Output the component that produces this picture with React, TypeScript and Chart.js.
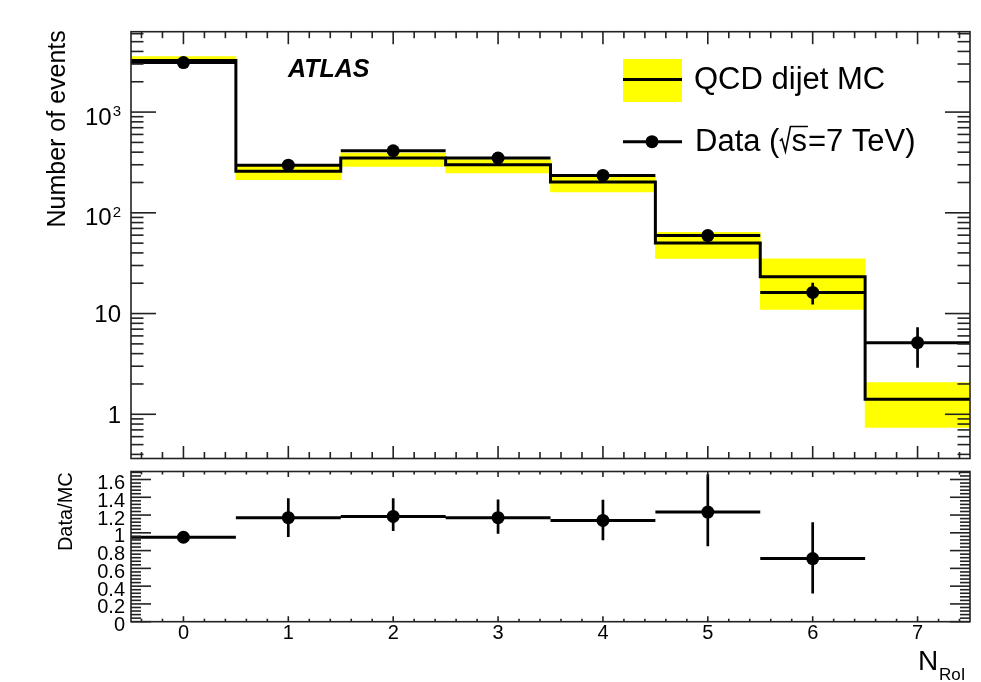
import React, { useEffect, useRef } from 'react';
import { Chart, registerables } from 'chart.js';

Chart.register(...registerables);

const FONT = '"Liberation Sans", Arial, Helvetica, sans-serif';

// ---------------- data ----------------
const categories = [0, 1, 2, 3, 4, 5, 6, 7];
const xTickLabels = ['0', '1', '2', '3', '4', '5', '6', '7'];

// QCD dijet MC (histogram) and its uncertainty band
const mcValues = [3245, 258, 350, 300, 202, 50.3, 23.2, 1.41];
const mcBandLow = [3230, 213, 289, 249, 161, 35.2, 11.0, 0.74];
const mcBandHigh = [3550, 297, 392, 337, 230, 64.1, 34.9, 2.06];

// Data (sqrt(s)=7 TeV)
const dataValues = [3100, 297, 413, 350, 235, 59.4, 16.2, 5.14];
const dataErrLow = [3045, 280, 393, 331, 220, 51.7, 12.3, 2.9];
const dataErrHigh = [3156, 314, 433, 369, 250, 67.1, 20.2, 7.33];

// Data / MC ratio
const ratioCategories = [0, 1, 2, 3, 4, 5, 6];
const ratioValues = [0.95, 1.17, 1.185, 1.17, 1.14, 1.233, 0.71];
const ratioErrLow = [0.93, 0.953, 1.02, 0.99, 0.916, 0.849, 0.318];
const ratioErrHigh = [0.97, 1.39, 1.39, 1.375, 1.372, 1.66, 1.12];

// axis ticks
const topYTickValues = [1, 10, 100, 1000];
const topYTickLabels = ['1', '10', '10^2', '10^3'];
const ratioYTickValues = [0, 0.2, 0.4, 0.6, 0.8, 1, 1.2, 1.4, 1.6];
const ratioYTickLabels = ['0', '0.2', '0.4', '0.6', '0.8', '1', '1.2', '1.4', '1.6'];

const xRange = [-0.5, 7.5];
const topYRange = [0.364, 6280];
const ratioYRange = [0, 1.69];
const binHalfWidth = 0.5;

// ---------------- helpers ----------------
function xErrBars(cats: number[], vals: number[]) {
  const out: any[] = [];
  cats.forEach((c, i) => {
    out.push({ x: c - binHalfWidth, y: vals[i] }, { x: c + binHalfWidth, y: vals[i] }, { x: c, y: null });
  });
  return out;
}
function yErrBars(cats: number[], lo: number[], hi: number[]) {
  const out: any[] = [];
  cats.forEach((c, i) => {
    out.push({ x: c, y: lo[i] }, { x: c, y: hi[i] }, { x: c, y: null });
  });
  return out;
}
function stepPoints(cats: number[], vals: number[]) {
  return [
    { x: xRange[0], y: vals[0] },
    ...cats.map((c, i) => ({ x: c, y: vals[i] })),
    { x: xRange[1], y: vals[vals.length - 1] },
  ];
}
function linTicks(min: number, max: number, step: number, majorEvery: number) {
  const major: number[] = [];
  const minor: number[] = [];
  const k0 = Math.ceil(min / step - 1e-9);
  const k1 = Math.floor(max / step + 1e-9);
  for (let k = k0; k <= k1; k++) {
    const v = k * step;
    const r = v / majorEvery;
    if (Math.abs(r - Math.round(r)) < 1e-6) major.push(v);
    else minor.push(v);
  }
  return { major, minor };
}
function logTicks(min: number, max: number) {
  const major: number[] = [];
  const minor: number[] = [];
  for (let e = Math.floor(Math.log10(min)); e <= Math.floor(Math.log10(max)); e++) {
    for (let m = 1; m <= 9; m++) {
      const v = m * Math.pow(10, e);
      if (v < min || v > max) continue;
      if (m === 1) major.push(v);
      else minor.push(v);
    }
  }
  return { major, minor };
}
function line(ctx: CanvasRenderingContext2D, x1: number, y1: number, x2: number, y2: number) {
  ctx.beginPath();
  ctx.moveTo(x1, y1);
  ctx.lineTo(x2, y2);
  ctx.stroke();
}
function drawFrameAndTicks(chart: any, xT: any, yT: any, xLen: number[], yLen: number[]) {
  const ctx = chart.ctx as CanvasRenderingContext2D;
  const a = chart.chartArea;
  const xs = chart.scales.x;
  const ys = chart.scales.y;
  ctx.save();
  ctx.strokeStyle = '#222';
  ctx.lineWidth = 1.6;
  ctx.lineCap = 'butt';
  ctx.strokeRect(a.left, a.top, a.right - a.left, a.bottom - a.top);
  const xt = (vals: number[], len: number) => {
    vals.forEach((v) => {
      const px = xs.getPixelForValue(v);
      line(ctx, px, a.bottom, px, a.bottom - len);
      line(ctx, px, a.top, px, a.top + len);
    });
  };
  const yt = (vals: number[], len: number) => {
    vals.forEach((v) => {
      const py = ys.getPixelForValue(v);
      line(ctx, a.left, py, a.left + len, py);
      line(ctx, a.right, py, a.right - len, py);
    });
  };
  xt(xT.major, xLen[0]);
  xt(xT.minor, xLen[1]);
  yt(yT.major, yLen[0]);
  yt(yT.minor, yLen[1]);
  ctx.restore();
}

// ---------------- plugins ----------------
const topPlugin = {
  id: 'topDecor',
  afterDatasetsDraw(chart: any) {
    drawFrameAndTicks(
      chart,
      linTicks(xRange[0], xRange[1], 0.2, 1),
      logTicks(topYRange[0], topYRange[1]),
      [12.5, 6.5],
      [25, 12.5]
    );
  },
  afterDraw(chart: any) {
    const ctx = chart.ctx as CanvasRenderingContext2D;
    const a = chart.chartArea;
    const ys = chart.scales.y;
    ctx.save();
    ctx.fillStyle = '#000';
    // y tick labels
    const rightX = a.left - 10;
    topYTickValues.forEach((v, i) => {
      const py = ys.getPixelForValue(v);
      const parts = topYTickLabels[i].split('^');
      ctx.textAlign = 'left';
      ctx.textBaseline = 'alphabetic';
      if (parts.length === 1) {
        ctx.font = `24px ${FONT}`;
        const w = ctx.measureText(parts[0]).width;
        ctx.fillText(parts[0], rightX - w, py + 8.5);
      } else {
        ctx.font = `15px ${FONT}`;
        const ew = ctx.measureText(parts[1]).width;
        ctx.font = `24px ${FONT}`;
        const bw = ctx.measureText(parts[0]).width;
        ctx.fillText(parts[0], rightX - ew - bw - 1, py + 12.5);
        ctx.font = `15px ${FONT}`;
        ctx.fillText(parts[1], rightX - ew, py + 3.7);
      }
    });
    // y title
    ctx.save();
    ctx.translate(65, a.top - 1.5);
    ctx.rotate(-Math.PI / 2);
    ctx.font = `25px ${FONT}`;
    ctx.textAlign = 'right';
    ctx.textBaseline = 'alphabetic';
    ctx.fillText('Number of events', 0, 0);
    ctx.restore();

    // ATLAS label
    ctx.font = `italic bold 25px ${FONT}`;
    ctx.textAlign = 'left';
    ctx.textBaseline = 'alphabetic';
    ctx.fillText('ATLAS', 288, 77.3);

    // legend: QCD dijet MC
    ctx.fillStyle = '#ffff00';
    ctx.fillRect(623, 59, 59, 43);
    ctx.strokeStyle = '#000';
    ctx.lineWidth = 3;
    line(ctx, 623, 79.5, 682, 79.5);
    ctx.fillStyle = '#000';
    ctx.font = `31px ${FONT}`;
    ctx.fillText('QCD dijet MC', 694, 89);

    // legend: Data
    line(ctx, 623, 141.7, 682, 141.7);
    ctx.beginPath();
    ctx.arc(652, 141.7, 6.5, 0, Math.PI * 2);
    ctx.fill();
    let x = 695;
    const y = 151;
    ctx.fillText('Data (', x, y);
    x += ctx.measureText('Data (').width;
    const sW = ctx.measureText('s').width;
    ctx.lineWidth = 1.6;
    ctx.beginPath();
    ctx.moveTo(x + 0.5, y - 10);
    ctx.lineTo(x + 2.5, y - 12);
    ctx.lineTo(x + 6, y + 0.5);
    ctx.lineTo(x + 11, y - 24.5);
    ctx.lineTo(x + 12 + sW + 1, y - 24.5);
    ctx.stroke();
    x += 12;
    ctx.fillText('s', x, y);
    x += sW + 1;
    ctx.fillText('=7 TeV)', x, y);
    ctx.restore();
  },
};

const ratioPlugin = {
  id: 'ratioDecor',
  afterDatasetsDraw(chart: any) {
    drawFrameAndTicks(
      chart,
      linTicks(xRange[0], xRange[1], 0.2, 1),
      linTicks(ratioYRange[0], ratioYRange[1], 0.04, 0.2),
      [5.5, 3],
      [20, 10]
    );
  },
  afterDraw(chart: any) {
    const ctx = chart.ctx as CanvasRenderingContext2D;
    const a = chart.chartArea;
    const xs = chart.scales.x;
    const ys = chart.scales.y;
    ctx.save();
    ctx.fillStyle = '#000';
    ctx.font = `20px ${FONT}`;
    ctx.textBaseline = 'alphabetic';
    // y tick labels
    ctx.textAlign = 'right';
    ratioYTickValues.forEach((v, i) => {
      ctx.fillText(ratioYTickLabels[i], a.left - 6, ys.getPixelForValue(v) + 9.5);
    });
    // x tick labels
    ctx.textAlign = 'center';
    categories.forEach((c, i) => {
      ctx.fillText(xTickLabels[i], xs.getPixelForValue(c), a.bottom + 17);
    });
    // y title
    ctx.save();
    ctx.translate(71.7, a.top + 0.7);
    ctx.rotate(-Math.PI / 2);
    ctx.font = `20px ${FONT}`;
    ctx.textAlign = 'right';
    ctx.fillText('Data/MC', 0, 0);
    ctx.restore();
    // x title N_RoI
    ctx.textAlign = 'left';
    ctx.font = `28px ${FONT}`;
    ctx.fillText('N', 918, a.bottom + 48.3);
    ctx.font = `17px ${FONT}`;
    ctx.fillText('RoI', 939, a.bottom + 58.3);
    ctx.restore();
  },
};

function xScaleOptions() {
  return {
    type: 'linear',
    min: xRange[0],
    max: xRange[1],
    offset: false,
    display: false,
    ticks: { stepSize: 1, includeBounds: false },
    afterBuildTicks: (s: any) => {
      s.ticks = categories.map((v) => ({ value: v }));
    },
  };
}

function topConfig(): any {
  return {
    type: 'bar',
    data: {
      datasets: [
        {
          type: 'line',
          label: 'Data',
          data: categories.map((c, i) => ({ x: c, y: dataValues[i] })),
          showLine: false,
          pointRadius: 6.5,
          pointBackgroundColor: '#000',
          pointBorderWidth: 0,
          order: 0,
        },
        {
          type: 'line',
          label: 'Data x-err',
          data: xErrBars(categories, dataValues),
          borderColor: '#000',
          borderWidth: 3,
          pointRadius: 0,
          spanGaps: false,
          fill: false,
          order: 1,
        },
        {
          type: 'line',
          label: 'Data y-err',
          data: yErrBars(categories, dataErrLow, dataErrHigh),
          borderColor: '#000',
          borderWidth: 2.7,
          pointRadius: 0,
          spanGaps: false,
          fill: false,
          order: 1,
        },
        {
          type: 'line',
          label: 'QCD dijet MC',
          data: stepPoints(categories, mcValues),
          stepped: 'middle',
          borderColor: '#000',
          borderWidth: 3,
          pointRadius: 0,
          fill: false,
          order: 2,
        },
        {
          type: 'bar',
          label: 'MC uncertainty',
          data: categories.map((c, i) => ({ x: c, y: [mcBandLow[i], mcBandHigh[i]] })),
          backgroundColor: '#ffff00',
          borderWidth: 0,
          barPercentage: 1,
          categoryPercentage: 1,
          order: 3,
        },
      ],
    },
    options: {
      animation: false,
      responsive: false,
      devicePixelRatio: 1,
      events: [],
      layout: { padding: { left: 131, right: 11, top: 31.7, bottom: 5.7 } },
      plugins: { legend: { display: false }, tooltip: { enabled: false }, title: { display: false } },
      scales: {
        x: xScaleOptions(),
        y: { type: 'logarithmic', min: topYRange[0], max: topYRange[1], display: false },
      },
    },
    plugins: [topPlugin],
  };
}

function ratioConfig(): any {
  return {
    type: 'line',
    data: {
      datasets: [
        {
          label: 'Data/MC',
          data: ratioCategories.map((c, i) => ({ x: c, y: ratioValues[i] })),
          showLine: false,
          pointRadius: 6.5,
          pointBackgroundColor: '#000',
          pointBorderWidth: 0,
          order: 0,
        },
        {
          label: 'ratio x-err',
          data: xErrBars(ratioCategories, ratioValues),
          borderColor: '#000',
          borderWidth: 3,
          pointRadius: 0,
          spanGaps: false,
          fill: false,
          order: 1,
        },
        {
          label: 'ratio y-err',
          data: yErrBars(ratioCategories, ratioErrLow, ratioErrHigh),
          borderColor: '#000',
          borderWidth: 2.7,
          pointRadius: 0,
          spanGaps: false,
          fill: false,
          order: 1,
        },
      ],
    },
    options: {
      animation: false,
      responsive: false,
      devicePixelRatio: 1,
      events: [],
      layout: { padding: { left: 131, right: 11, top: 6, bottom: 60.3 } },
      plugins: { legend: { display: false }, tooltip: { enabled: false }, title: { display: false } },
      scales: {
        x: xScaleOptions(),
        y: { type: 'linear', min: ratioYRange[0], max: ratioYRange[1], display: false },
      },
    },
    plugins: [ratioPlugin],
  };
}

export default function App() {
  const topRef = useRef<HTMLCanvasElement>(null);
  const ratioRef = useRef<HTMLCanvasElement>(null);
  useEffect(() => {
    const top = new Chart(topRef.current as HTMLCanvasElement, topConfig());
    const ratio = new Chart(ratioRef.current as HTMLCanvasElement, ratioConfig());
    return () => {
      top.destroy();
      ratio.destroy();
    };
  }, []);
  return (
    <div
      style={{
        position: 'fixed',
        left: 0,
        top: 0,
        width: 981,
        height: 682,
        background: '#fff',
        overflow: 'hidden',
      }}
    >
      <canvas ref={topRef} width={981} height={465} style={{ position: 'absolute', left: 0, top: 0 }} />
      <canvas ref={ratioRef} width={981} height={217} style={{ position: 'absolute', left: 0, top: 465 }} />
    </div>
  );
}
